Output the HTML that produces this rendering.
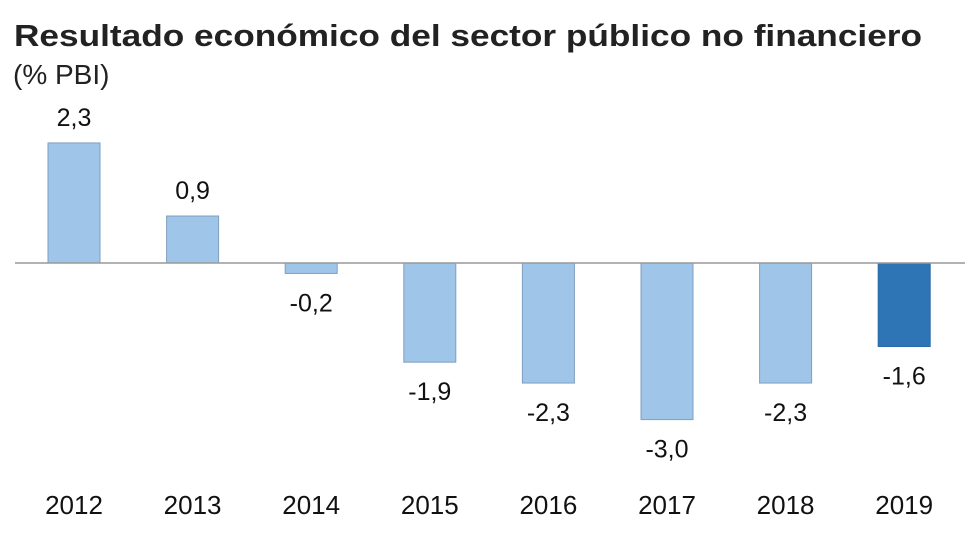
<!DOCTYPE html>
<html><head><meta charset="utf-8"><style>
body{margin:0;background:#fff;}
svg{display:block;font-family:"Liberation Sans",Arial,sans-serif;}
</style></head><body>
<svg id="chart" width="980" height="536">
<text x="14" y="46" font-size="31" font-weight="bold" fill="#222" textLength="908" lengthAdjust="spacingAndGlyphs">Resultado económico del sector público no financiero</text>
<text x="13" y="84" font-size="28" fill="#222">(% PBI)</text>
<g id="bars"></g>
<line x1="15" x2="965" y1="263" y2="263" stroke="#999" stroke-width="1.5"/>
</svg>
<script>
const categories=["2012","2013","2014","2015","2016","2017","2018","2019"];
const values=[2.3,0.9,-0.2,-1.9,-2.3,-3.0,-2.3,-1.6];
const labels=["2,3","0,9","-0,2","-1,9","-2,3","-3,0","-2,3","-1,6"];
const highlight=[false,false,false,false,false,false,false,true];
const NS="http://www.w3.org/2000/svg";
const y0=263, k=52.2;
function yScale(v){return y0-v*k;}
function xCenter(i){return 74+i*118.6;}
const g=document.getElementById('bars');
categories.forEach((c,i)=>{
  const v=values[i], cx=xCenter(i), w=52;
  const r=document.createElementNS(NS,'rect');
  
  
  r.setAttribute('x',cx-w/2);
  r.setAttribute('y',Math.min(yScale(v),y0));
  r.setAttribute('width',w);
  r.setAttribute('height',Math.abs(yScale(v)-y0));
  r.setAttribute('fill',highlight[i]?'#2e75b6':'#9fc5e8');
  r.setAttribute('stroke',highlight[i]?'#2a6aa6':'#7f9fbf');
  r.setAttribute('stroke-width','1');
  g.appendChild(r);
  const t=document.createElementNS(NS,'text');
  
  
  t.setAttribute('x',cx);
  t.setAttribute('y',v>=0?yScale(v)-17:yScale(v)+38);
  t.setAttribute('text-anchor','middle');
  t.setAttribute('font-size','25');
  t.setAttribute('fill','#111');
  t.textContent=labels[i];
  g.appendChild(t);
  const xl=document.createElementNS(NS,'text');
  
  
  xl.setAttribute('x',cx);
  xl.setAttribute('y',514);
  xl.setAttribute('text-anchor','middle');
  xl.setAttribute('font-size','26');
  xl.setAttribute('fill','#111');
  xl.textContent=c;
  g.appendChild(xl);
});
</script>
</body></html>
